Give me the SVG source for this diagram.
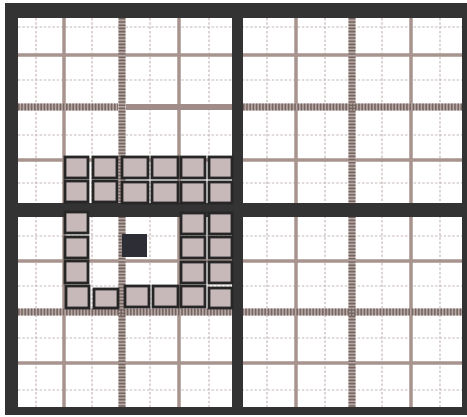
<svg xmlns="http://www.w3.org/2000/svg" width="467" height="417" viewBox="0 0 467 417">
<style>
.thin{stroke:#c6b8b8;stroke-width:1.2;stroke-dasharray:2.5,1.8;fill:none}
.sub{stroke:#a8948f;stroke-width:3.5;fill:none}
.hb{stroke:#b8a8a5;stroke-width:7;fill:none}
.hs{stroke:#766662;stroke-width:7;stroke-dasharray:1.6,1.6;fill:none}
.dark{fill:#333333}
.sq{fill:#c7b9b9;stroke:#262626;stroke-width:2.8}
</style>
<rect width="467" height="417" fill="#ffffff"/>
<g id="grid">
<g id="thin-lines">
<path class="thin" d="M36 18V407M92 18V407M150 18V407M209 18V407M267 18V407M325 18V407M382 18V407M440 18V407"/>
<path class="thin" d="M18 27H462M18 80H462M18 135H462M18 183H462M18 236H462M18 286H462M18 338H462M18 390H462"/>
</g>
<g id="sub-lines">
<path class="sub" d="M64 18V407M179 18V407M296 18V407M411 18V407"/>
<path class="sub" d="M18 55H462M18 160H462M18 261H462M18 363H462"/>
</g>
<g id="hatched-lines">
<path class="hb" d="M122 18V407M352 18V407M18 107H118M243 107H462M18 312H462"/>
<path class="hs" d="M122 18V407M352 18V407M18 107H118M243 107H462M18 312H462"/>
<path stroke="#a08c88" stroke-width="6" fill="none" d="M126 107H232"/>
</g>
<g id="center-cross">
<rect class="dark" x="232" y="18" width="11" height="389"/>
<rect class="dark" x="18" y="203" width="444" height="14"/>
</g>
<path id="frame" class="dark" fill-rule="evenodd" d="M5 3H467V415H5Z M18 18V407H462V18Z"/>
</g>
<g id="ring">
<rect class="sq" x="65" y="157" width="23" height="21"/>
<rect class="sq" x="93" y="157" width="24" height="21"/>
<rect class="sq" x="122" y="157" width="26" height="21"/>
<rect class="sq" x="152" y="157" width="26" height="21"/>
<rect class="sq" x="181" y="157" width="24" height="21"/>
<rect class="sq" x="209" y="157" width="23" height="21"/>
<rect class="sq" x="65" y="181" width="23" height="21"/>
<rect class="sq" x="93" y="181" width="24" height="21"/>
<rect class="sq" x="122" y="182" width="26" height="21"/>
<rect class="sq" x="152" y="182" width="26" height="21"/>
<rect class="sq" x="181" y="182" width="24" height="21"/>
<rect class="sq" x="209" y="182" width="23" height="21"/>
<rect class="sq" x="65" y="212" width="23" height="21"/>
<rect class="sq" x="181" y="213" width="24" height="21"/>
<rect class="sq" x="209" y="213" width="23" height="21"/>
<rect class="sq" x="65" y="237" width="23" height="21"/>
<rect class="sq" x="181" y="237" width="24" height="21"/>
<rect class="sq" x="209" y="237" width="23" height="21"/>
<rect class="sq" x="65" y="261" width="23" height="22"/>
<rect class="sq" x="181" y="262" width="24" height="21"/>
<rect class="sq" x="209" y="262" width="23" height="21"/>
<rect class="sq" x="66" y="286" width="23" height="22"/>
<rect class="sq" x="94" y="289" width="24" height="19"/>
<rect class="sq" x="125" y="286" width="24" height="21"/>
<rect class="sq" x="153" y="286" width="25" height="21"/>
<rect class="sq" x="181" y="286" width="24" height="21"/>
<rect class="sq" x="209" y="288" width="23" height="20"/>
</g>
<g id="target">
<rect x="122" y="234" width="25" height="23" fill="#2d2d35"/>
</g>
</svg>
